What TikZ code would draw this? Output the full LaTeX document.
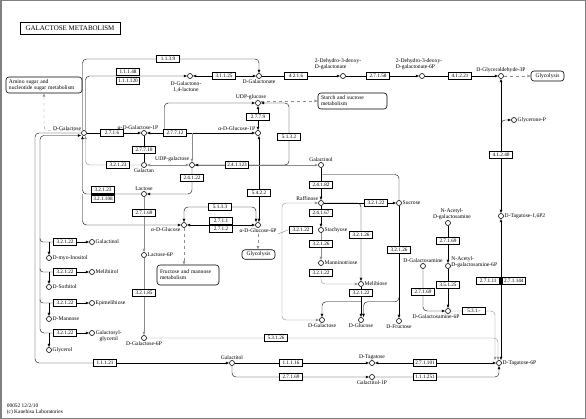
\documentclass[tikz,border=0pt]{standalone}
\usepackage{fontspec}
\setmainfont{Liberation Serif}
\usepackage{tikz}
\usetikzlibrary{arrows.meta,calc,backgrounds}

\begin{document}
\begin{tikzpicture}[x=1pt,y=-1pt,line width=0.6pt,
  enz/.style={draw,fill=white,minimum width=23pt,minimum height=7pt,inner sep=0pt,font=\fontsize{5.2}{5.2}\selectfont},
  cpd/.style={circle,draw,fill=white,minimum size=5pt,inner sep=0pt},
  lbl/.style={font=\fontsize{5.6}{6}\selectfont,inner sep=0.6pt},
  mapbox/.style={draw,fill=white,rounded corners=3pt,font=\fontsize{5.6}{6}\selectfont,align=left,inner sep=1pt},
  arr/.style={-{Latex[length=3.4pt,width=2.8pt]}},
  arrboth/.style={{Latex[length=3.4pt,width=2.8pt]}-{Latex[length=3.4pt,width=2.8pt]}},
  gr/.style={draw=black!45},
  every label/.style={lbl}]
\useasboundingbox (0,0) rectangle (586,419);

\node[draw,minimum width=100pt,minimum height=12pt,inner sep=0pt,font=\fontsize{7}{7}\selectfont] (title) at (70,28.5) {GALACTOSE METABOLISM};
\node[mapbox,minimum width=76pt,minimum height=16pt,text width=70pt] (amino) at (44,85) {Amino sugar and\\nucleotide sugar metabolism};
\node[mapbox,minimum width=69pt,minimum height=16pt,text width=63pt] (starch) at (352.5,101) {Starch and sucrose\\metabolism};
\node[mapbox,align=center,minimum width=33pt,minimum height=10pt] (glyc) at (547.5,76) {Glycolysis};
\node[mapbox,align=center,minimum width=33pt,minimum height=9.5pt] (glyc2) at (258.5,254.5) {Glycolysis};
\node[mapbox,minimum width=62pt,minimum height=20pt,text width=56pt] (fruc) at (188,275) {Fructose and mannose\\metabolism};

\node[cpd,label={above left:D-Galactose}] (GalD) at (84,133) {};
\node[cpd] (GalLac) at (190,76) {};
\node[lbl,align=center] (tGalLac) at (186,86.5) {D-Galactono-\\1,4-lactone};
\node[cpd,label={below:D-Galactonate}] (Galnt) at (259,76) {};
\node[cpd] (Kdg) at (343,76) {};
\node[lbl,align=left,anchor=south west] (tKdg) at (314,71) {2-Dehydro-3-deoxy-\\D-galactonate};
\node[cpd] (Kdgp) at (422,76) {};
\node[lbl,align=left,anchor=south west] (tKdgp) at (395,71) {2-Dehydro-3-deoxy-\\D-galactonate-6P};
\node[cpd,label={above:D-Glyceraldehyde-3P}] (G3P) at (501,76) {};
\node[cpd,label={right:Glycerone-P}] (Gnp) at (514,120) {};
\node[cpd,label={right:D-Tagatose-1,6P2}] (Tag16) at (501,216) {};
\node[cpd,label={right:D-Tagatose-6P}] (Tag6) at (499,363) {};
\node[cpd,label={[xshift=-7pt]above:UDP-glucose}] (UDPG) at (258,103) {};
\node[cpd,label={above left:α-D-Glucose-1P}] (G1P) at (258,133) {};
\node[cpd,label={[xshift=-6pt]above:α-D-Galactose-1P}] (Gal1P) at (144,133) {};
\node[cpd,label={above left:UDP-galactose}] (UDPGal) at (192,165) {};
\node[cpd,label={below:Galactan}] (Galactan) at (144,165) {};
\node[cpd,label={above:Lactose}] (Lactose) at (144,194) {};
\node[cpd,label={right:Lactose-6P}] (Lac6P) at (144,255) {};
\node[cpd,label={below:D-Galactose-6P}] (Gal6P) at (144,338) {};
\node[cpd,label={[yshift=-4.5pt]left:α-D-Glucose}] (Glc) at (184,225) {};
\node[cpd,label={[name=tG6P]below:α-D-Glucose-6P}] (G6P) at (258,225) {};
\node[cpd,label={above:Galactinol}] (galol) at (321,165) {};
\node[cpd,label={above left:Raffinose}] (Raffinose) at (321,203) {};
\node[cpd,label={right:Stachyose}] (Stachyose) at (321,230) {};
\node[cpd,label={right:Manninotriose}] (Mannino) at (321,263) {};
\node[cpd,label={right:Melibiose}] (Melibiose) at (361,284) {};
\node[cpd,label={right:Sucrose}] (Sucrose) at (399,203) {};
\node[cpd,label={below:D-Fructose}] (Fru) at (399,321) {};
\node[cpd,label={below:D-Galactose}] (Gal2) at (322,320) {};
\node[cpd,label={below:D-Glucose}] (Glc2) at (361,320) {};
\node[cpd,label={[align=center,xshift=4pt]above:{N-Acetyl-\\D-galactosamine}}] (NAcGal) at (448,223) {};
\node[cpd] (NAcGal6P) at (448,266) {};
\node[lbl,align=left,anchor=west] (tNAcGal6P) at (450.5,262.5) {N-Acetyl-\\D-galactosamine-6P};
\node[cpd,label={above:D-Galactosamine}] (GalN) at (423,266) {};
\node[cpd,label={[xshift=-12pt]below:D-Galactosamine-6P}] (GalN6P) at (448,311) {};
\node[cpd,label={above:Galactitol}] (Galtol) at (232,363) {};
\node[cpd,label={above:D-Tagatose}] (Tag) at (372,363) {};
\node[cpd,label={below:Galactitol-1P}] (Galtol1P) at (372,377) {};
\node[cpd,label={right:Galactinol}] (galolL) at (92,242) {};
\node[cpd,label={right:D-myo-Inositol}] (Inositol) at (49,258) {};
\node[cpd,label={right:Melibiitol}] (Melibiitol) at (92,272) {};
\node[cpd,label={right:D-Sorbitol}] (Sorbitol) at (49,287) {};
\node[cpd,label={right:Epimelibiose}] (Epimel) at (92,303) {};
\node[cpd,label={right:D-Mannose}] (Mannose) at (49,319) {};
\node[cpd] (Galglyc) at (92,333) {};
\node[lbl,align=center,anchor=north west] (tGalglyc) at (95,329.8) {Galactosyl-\\glycerol};
\node[cpd,label={right:Glycerol}] (Glycerol) at (49,350) {};

\node[enz] (e1139) at (168,59) {1.1.3.9};
\node[enz] (e11148) at (128,72) {1.1.1.48};
\node[enz] (e111120) at (128,80.5) {1.1.1.120};
\node[enz] (e31125) at (224,76) {3.1.1.25};
\node[enz] (e4216) at (296,76) {4.2.1.6};
\node[enz] (e27158) at (378,76) {2.7.1.58};
\node[enz] (e41221) at (460,76) {4.1.2.21};
\node[enz] (e41240) at (501,155) {4.1.2.40};
\node[enz,anchor=east] (e27111) at (500,281) {2.7.1.11};
\node[enz,anchor=west] (e271144) at (502,281) {2.7.1.144};
\node[enz] (e2716) at (112,133) {2.7.1.6};
\node[enz] (e27712) at (175,133) {2.7.7.12};
\node[enz] (e27710) at (144,150) {2.7.7.10};
\node[enz] (e2779) at (258,117) {2.7.7.9};
\node[enz] (e5132) at (289,137) {5.1.3.2};
\node[enz] (e241123) at (237,165) {2.4.1.123};
\node[enz] (e24122) at (192,178) {2.4.1.22};
\node[enz] (e32123a) at (118,165) {3.2.1.23};
\node[enz] (e32123b) at (103,189.5) {3.2.1.23};
\node[enz] (e321108) at (103,198.5) {3.2.1.108};
\node[enz] (e27169a) at (144,213) {2.7.1.69};
\node[enz] (e32185) at (144,293) {3.2.1.85};
\node[enz] (e5133) at (220,207) {5.1.3.3};
\node[enz] (e2711) at (221,221) {2.7.1.1};
\node[enz] (e2712) at (221,229) {2.7.1.2};
\node[enz] (e5422) at (259,193) {5.4.2.2};
\node[enz] (e24182) at (321,185) {2.4.1.82};
\node[enz] (e24167) at (321,213) {2.4.1.67};
\node[enz] (e32126a) at (321,244) {3.2.1.26};
\node[enz] (e32122a) at (301,229.5) {3.2.1.22};
\node[enz] (e32122b) at (376,203) {3.2.1.22};
\node[enz] (e32126b) at (361,235) {3.2.1.26};
\node[enz] (e32122c) at (321,273) {3.2.1.22};
\node[enz] (e32122d) at (361,293) {3.2.1.22};
\node[enz] (e32126c) at (399,250) {3.2.1.26};
\node[enz] (e27169b) at (448,241) {2.7.1.69};
\node[enz] (e27169c) at (423,292) {2.7.1.69};
\node[enz] (e35125) at (448,285) {3.5.1.25};
\node[enz] (e531x) at (474,311) {5.3.1.-};
\node[enz] (e53126) at (276,338) {5.3.1.26};
\node[enz] (e11121) at (105,363) {1.1.1.21};
\node[enz] (e11116) at (291,363) {1.1.1.16};
\node[enz] (e27169d) at (291,377) {2.7.1.69};
\node[enz] (e271101) at (425,363) {2.7.1.101};
\node[enz] (e111251) at (425,377) {1.1.1.251};
\foreach \n/\y in {1/242,2/272,3/303,4/333}
  \node[enz] (eL\n) at (65,\y) {3.2.1.22};

\fill (e32123b.south west) rectangle (e321108.north east);
\fill (e27111.north east) rectangle (e271144.south west);

\node[lbl,align=left,anchor=north west,font=\fontsize{5.4}{6.4}\selectfont] (copy) at (6,403) {00052 12/2/10\\(c) Kanehisa Laboratories};

\coordinate (gnpj) at ($(G3P)!0.65!(e41240)$);
\coordinate (t6a) at ($(Tag6.north)+(-4,0)$);
\coordinate (t6b) at ($(Tag6.north)+(-1,0)$);
\coordinate (t6c) at ($(Tag6.north)+(2,0)$);
\coordinate (gdc) at ($(GalD.south)+(1.5,0)$);
\coordinate (gdd) at ($(GalD.south)+(-1.5,0)$);
\coordinate (g6n) at ($(G6P.north)+(-2,0)$);
\coordinate (j2) at ($(galol.south)!0.5!(e24182.north)$);
\coordinate (c282) at (282,262);
\coordinate (c282b) at (278,234);
\coordinate (mj) at ($(e32122d.south)+(0,5)$);
\coordinate (g2a) at ($(Glc2.north)+(2.5,0)$);
\coordinate (L1) at (35,363);
\coordinate (bx) at (40,200);

\begin{scope}[on background layer]
\fill[white] (0,0) rectangle (586,419);
\draw[rounded corners=4pt] ([xshift=-1.5pt]GalD.north) |- (e1139.west);
\draw[arr,rounded corners=4pt] (e1139.east) -| (Galnt.north);
\draw[arr,rounded corners=4pt] ([xshift=1.5pt]GalD.north) |- (GalLac.west);
\draw[arrboth] (GalLac.east) -- (Galnt.west);
\draw[arr] (Galnt.east) -- (Kdg.west);
\draw[arr] (Kdg.east) -- (Kdgp.west);
\draw[arr] (Kdgp.east) -- (G3P.west);
\draw[gr,dashed,arr] (G3P.east) -- (G3P.east -| glyc.west);
\draw[arrboth] (G3P.south) -- (Tag16.north);
\draw[arr,rounded corners=4pt] (gnpj) |- (Gnp.west);
\draw[arrboth] (Tag16.south) -- (t6c);
\draw[gr,dashed,arr,rounded corners=4pt] ([yshift=2.5pt]GalD.west) -| (amino.south);

\draw[arr] (GalD.east) -- (Gal1P.west);
\draw[arrboth] (Gal1P.east) -- (G1P.west);
\draw[arr,rounded corners=4pt] ([xshift=1pt]e27712.north west) |- (UDPG.west);
\draw[gr,arr] (UDPGal.north |- G1P) -- (UDPGal.north);
\draw[arrboth] (UDPG.south) -- (G1P.north);
\draw[arrboth] ([xshift=1pt]G1P.south) -- ([xshift=1pt]G6P.north);
\draw[gr,dashed,arr] ([yshift=2pt]UDPG.east) -- (starch.west);
\draw[gr,arr] (UDPGal.east) -- (galol.west);
\draw[arr,rounded corners=4pt] (e5132.south) |- (UDPGal.east);
\draw[arr,rounded corners=4pt] (e5132.north) |- (UDPG.east);
\draw (Gal1P.south) -- (Galactan.north);
\draw[gr,arrboth] (UDPGal.west) -- (Galactan.east);
\draw[arr,rounded corners=4pt] (UDPGal.south) |- (Lactose.east);
\draw[gr,arr,rounded corners=4pt] (Galactan.west) -| (gdc);
\draw[arr,rounded corners=4pt] (Lactose.west) -| (gdd);
\draw[arr,rounded corners=4pt] (gdd |- Lactose) |- (Glc.west);
\draw[gr,arr] (Lactose.south) -- (Lac6P.north);
\draw[gr,arr] (Lac6P.south) -- (Gal6P.north);
\draw[gr,arr,rounded corners=4pt] (Gal6P.east) -| (t6b);
\draw[gr,dashed,arr] (Glc.south) -- (Glc.south |- fruc.north);
\draw[gr,dashed,arr] (tG6P.south) -- (tG6P.south |- glyc2.north);
\draw[arrboth] (Glc.east) -- (G6P.west);
\draw[arrboth,rounded corners=4pt] (Glc.north) |- (e5133.center) -| (g6n);

\draw[arr] (galol.south) -- (Raffinose.north);
\draw[rounded corners=4pt] (j2) -| (Sucrose.north);
\draw[arr] (Raffinose.east) -- (Sucrose.west);
\draw[arr,rounded corners=4pt] (Raffinose.east) -| (Melibiose.north);
\draw[arr] (Raffinose.south) -- (Stachyose.north);
\draw[gr,arr] (Stachyose.south) -- (Mannino.north);
\draw[gr,arr,rounded corners=4pt] (Mannino.south) |- (Melibiose.west);
\draw[gr,arrboth,rounded corners=4pt] (Raffinose.west) -| (c282) |- (Gal2.west);
\draw[gr] (c282b) -- (e32122a.west);
\draw[arr] (Melibiose.south) -- (Glc2.north);
\draw[arr,rounded corners=4pt] (mj) -| (Gal2.north);
\draw[arr] (Sucrose.south) -- (Fru.north);
\draw[arr,rounded corners=4pt] (Fru.north |- e32122d.south) |- (g2a |- mj) -- (g2a);

\draw[arr] (NAcGal.south) -- (NAcGal6P.north);
\draw[arr] (NAcGal6P.south) -- (GalN6P.north);
\draw[arr,rounded corners=4pt] (GalN.south) |- (GalN6P.west);
\draw[gr,arr,rounded corners=4pt] (GalN6P.east) -| (t6a);

\draw[rounded corners=4pt] (GalD.west) -| (L1) -- (e11121.west);
\draw[arr] (e11121.east) -- (Galtol.west);
\draw[arr] (Galtol.east) -- (Tag.west);
\draw[arrboth] (Tag.east) -- (Tag6.west);
\draw[arr,rounded corners=4pt] (Galtol.south) |- (Galtol1P.west);
\draw[arr,rounded corners=4pt] (Galtol1P.east) -| (Tag6.south);

\draw[arr,rounded corners=4pt] (eL4.west) -| (bx) |- ([yshift=-2.5pt]GalD.west);
\foreach \e in {eL1,eL2,eL3}
  \draw[rounded corners=3pt] (bx |- \e.north) |- (\e.west);
\foreach \e/\a/\b in {eL1/galolL/Inositol,eL2/Melibiitol/Sorbitol,eL3/Epimel/Mannose,eL4/Galglyc/Glycerol}{
  \draw[arr] (\e.east) -- (\a.west);
  \draw[arr] (\b |- \e) -- (\b.north);
}
\end{scope}

\draw[black!50,line width=1.5pt] (0.75,0.75) rectangle (585.25,418.25);
\end{tikzpicture}
\end{document}
